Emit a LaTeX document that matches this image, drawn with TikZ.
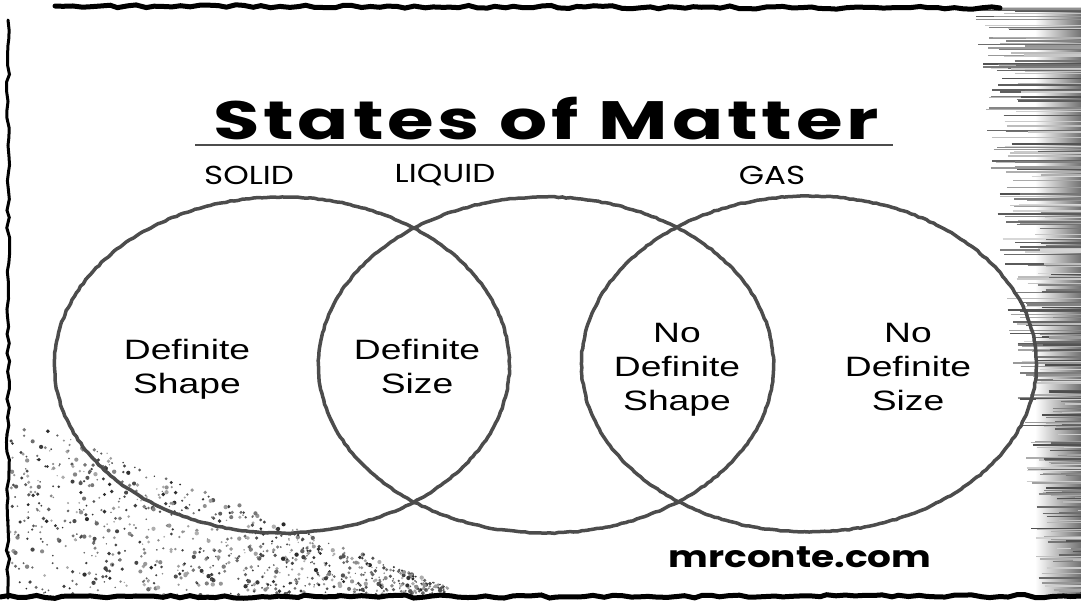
\documentclass[tikz,border=0pt]{standalone}
\usepackage{fontspec}
\setmainfont{Liberation Sans}[FakeStretch=1.33]
\newfontfamily\handfont{Poppins}[FakeStretch=1.25]
\newfontfamily\titlefont{Poppins}[FakeStretch=1.4,LetterSpace=7]
\usetikzlibrary{shapes.geometric,decorations.pathmorphing}
\tikzset{
  venn/.style={ellipse,draw=black!70,line width=3.5pt,
               minimum width=455pt,minimum height=336pt,
               decorate,decoration={random steps,segment length=4pt,amplitude=0.5pt}},
  inner/.style={align=center,font=\fontsize{28}{34}\selectfont},
  state/.style={font=\handfont\fontsize{26}{30}\selectfont},
  grunge/.style={black,line width=5pt,line cap=round,
                 decorate,decoration={random steps,segment length=9pt,amplitude=1.6pt}},
}

\begin{document}
\begin{tikzpicture}[x=1pt,y=-1pt]
  \useasboundingbox (0,0) rectangle (1081,600);
  \fill[white] (0,0) rectangle (1081,600);

  % rough frame
  \shade[left color=white,right color=black!55] (1035,8) rectangle (1081,596);
  \pgfmathsetseed{42}
  \foreach \k in {1,...,320}{
    \pgfmathsetmacro{\yy}{5+rnd*590}
    \pgfmathsetmacro{\xx}{972+0.11*\yy+rnd*50}
    \pgfmathsetmacro{\gg}{15+rnd*55}
    \pgfmathsetmacro{\ww}{0.5+rnd*1.8}
    \draw[black!\gg,line width=\ww pt] (\xx,\yy) -- (1081,\yy);
  }
  \foreach \k in {1,...,900}{
    \pgfmathsetmacro{\xx}{8+rnd*440}
    \pgfmathsetmacro{\yy}{596-rnd*185*(1-\xx/470)}
    \pgfmathsetmacro{\gg}{30+rnd*55}
    \pgfmathsetmacro{\rr}{0.7+rnd*1.5}
    \fill[black!\gg] (\xx,\yy) circle (\rr pt);
  }
  \draw[grunge] (55,6) -- (1000,8);
  \draw[grunge,line width=3pt] (8,20) -- (8,598);
  \draw[grunge] (0,597) -- (1081,596);

  % title
  \node[font=\titlefont\bfseries\fontsize{54}{60}\selectfont] (title) at (546,119) {States of Matter};
  \draw[black!70,line width=1.5pt] (195,145) -- (893,145);

  % the three states
  \node[venn] (solid) at (282,365) {};
  \node[venn] (liquid) at (546,365) {};
  \node[venn] (gas) at (809,364) {};

  \node[state] (lsolid) at (249,175) {SOLID};
  \node[state] (lliquid) at (445,175) {LIQUID};
  \node[state] (lgas) at (772,175) {GAS};

  \node[inner] (t1) at (187,369) {Definite\\Shape};
  \node[inner] (t2) at (417,366) {Definite\\Size};
  \node[inner] (t3) at (677,370) {No\\Definite\\Shape};
  \node[inner] (t4) at (908,367) {No\\Definite\\Size};

  \node[font=\handfont\bfseries\fontsize{30}{32}\selectfont] (site) at (800,557) {mrconte.com};
\end{tikzpicture}
\end{document}
